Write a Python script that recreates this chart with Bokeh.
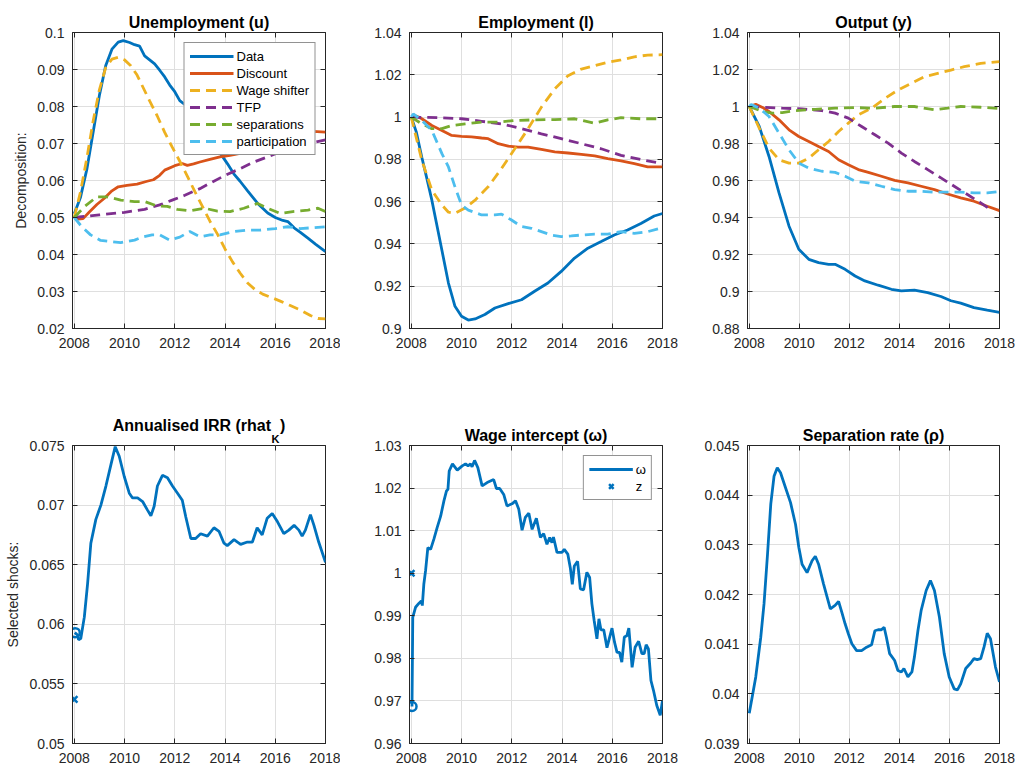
from bokeh.plotting import figure
from bokeh.layouts import gridplot
from bokeh.models import (Range1d, FixedTicker, CustomJSTickFormatter, LinearAxis,
                          Legend, LegendItem, Title)
from bokeh.embed import file_html
from bokeh.resources import INLINE

# ---------------- data ----------------
X_TICKS = [2008, 2010, 2012, 2014, 2016, 2018]
SERIES_NAMES = ["Data", "Discount", "Wage shifter", "TFP", "separations", "participation"]

# Unemployment (u)
u_data_x = [2008.0, 2008.25, 2008.5, 2008.75, 2009.0, 2009.25, 2009.5, 2009.75, 2009.95, 2010.2,
            2010.4, 2010.6, 2010.8, 2011.0, 2011.2, 2011.4, 2011.6, 2011.8, 2012.0, 2012.2,
            2012.5, 2012.9, 2013.3, 2013.6, 2013.85, 2014.1, 2014.35, 2014.6, 2014.9, 2015.1,
            2015.3, 2015.5, 2015.7, 2016.0, 2016.3, 2016.5, 2016.75, 2017.0, 2017.3, 2017.6, 2018.0]
u_data_y = [0.0510, 0.0555, 0.0630, 0.0730, 0.0830, 0.0910, 0.0955, 0.0974, 0.0978, 0.0973,
            0.0967, 0.0963, 0.0937, 0.0926, 0.0915, 0.0898, 0.0880, 0.0858, 0.0840, 0.0816,
            0.0800, 0.0770, 0.0730, 0.0695, 0.0670, 0.0645, 0.0618, 0.0598, 0.0572, 0.0555,
            0.0538, 0.0525, 0.0512, 0.0500, 0.0492, 0.0489, 0.0472, 0.0460, 0.0444, 0.0428, 0.0408]
u_disc_x = [2008.0, 2008.15, 2008.35, 2008.6, 2008.9, 2009.2, 2009.5, 2009.75, 2010.1, 2010.5,
            2010.9, 2011.15, 2011.4, 2011.6, 2012.0, 2012.3, 2012.5, 2012.75, 2013.0, 2013.4,
            2013.8, 2014.2, 2014.6, 2015.15, 2015.6, 2016.0, 2016.5, 2017.0, 2017.5, 2018.0]
u_disc_y = [0.0500, 0.0496, 0.0497, 0.0515, 0.0535, 0.0552, 0.0572, 0.0583, 0.0587, 0.0590,
            0.0598, 0.0602, 0.0614, 0.0628, 0.0640, 0.0646, 0.0641, 0.0645, 0.0650, 0.0657,
            0.0664, 0.0668, 0.0673, 0.0680, 0.0690, 0.0700, 0.0715, 0.0727, 0.0733, 0.0731]
u_wage_x = [2008.0, 2008.25, 2008.5, 2008.75, 2009.0, 2009.25, 2009.5, 2009.75, 2010.0, 2010.25,
            2010.5, 2010.75, 2011.0, 2011.3, 2011.6, 2011.9, 2012.2, 2012.5, 2012.8, 2013.1,
            2013.4, 2013.7, 2014.0, 2014.3, 2014.6, 2014.9, 2015.2, 2015.5, 2015.8, 2016.2,
            2016.6, 2017.0, 2017.4, 2017.7, 2018.0]
u_wage_y = [0.0500, 0.0570, 0.0660, 0.0760, 0.0845, 0.0905, 0.0928, 0.0933, 0.0926, 0.0910,
            0.0885, 0.0850, 0.0815, 0.0775, 0.0730, 0.0690, 0.0652, 0.0612, 0.0570, 0.0530,
            0.0490, 0.0455, 0.0415, 0.0380, 0.0350, 0.0323, 0.0305, 0.0293, 0.0285, 0.0274,
            0.0262, 0.0250, 0.0235, 0.0227, 0.0226]
u_tfp_x = [2008.0, 2009.0, 2010.0, 2010.8, 2011.4, 2011.9, 2012.4, 2013.0, 2013.5, 2014.0,
           2014.6, 2015.15, 2015.7, 2016.35, 2017.0, 2018.0]
u_tfp_y = [0.0500, 0.0507, 0.0514, 0.0522, 0.0534, 0.0547, 0.0560, 0.0578, 0.0596, 0.0614,
           0.0632, 0.0650, 0.0664, 0.0682, 0.0695, 0.0710]
u_sep_x = [2008.0, 2008.4, 2008.9, 2009.3, 2009.85, 2010.4, 2010.8, 2011.3, 2011.7, 2012.1,
           2012.6, 2013.2, 2013.7, 2014.2, 2014.75, 2015.3, 2015.7, 2016.2, 2016.7, 2017.3,
           2017.7, 2018.0]
u_sep_y = [0.0500, 0.0529, 0.0556, 0.0556, 0.0547, 0.0543, 0.0543, 0.0531, 0.0530, 0.0522,
           0.0518, 0.0525, 0.0517, 0.0516, 0.0525, 0.0538, 0.0525, 0.0511, 0.0516, 0.0520,
           0.0525, 0.0516]
u_part_x = [2008.0, 2008.3, 2008.65, 2009.05, 2009.45, 2009.85, 2010.4, 2010.75, 2011.1, 2011.4,
            2011.8, 2012.2, 2012.6, 2013.0, 2013.4, 2013.8, 2014.35, 2014.9, 2015.4, 2016.0,
            2016.5, 2017.0, 2018.0]
u_part_y = [0.0500, 0.0475, 0.0453, 0.0438, 0.0435, 0.0432, 0.0439, 0.0448, 0.0453, 0.0453,
            0.0439, 0.0447, 0.0462, 0.0448, 0.0453, 0.0453, 0.0462, 0.0466, 0.0466, 0.0470,
            0.0475, 0.0470, 0.0475]

# Employment (l)
l_data_x = [2008.0, 2008.2, 2008.42, 2008.62, 2008.82, 2009.0, 2009.22, 2009.48, 2009.74, 2010.0,
            2010.27, 2010.54, 2010.93, 2011.33, 2011.86, 2012.39, 2012.91, 2013.44, 2013.97, 2014.5,
            2015.03, 2015.56, 2016.08, 2016.61, 2017.14, 2017.67, 2018.0]
l_data_y = [1.0, 0.993, 0.981, 0.971, 0.9607, 0.950, 0.937, 0.9215, 0.9105, 0.9058,
            0.904, 0.9045, 0.9066, 0.9097, 0.9118, 0.9136, 0.9176, 0.9215, 0.927, 0.9333,
            0.938, 0.9411, 0.9442, 0.9466, 0.9497, 0.9532, 0.9544]
l_disc_x = [2008.0, 2008.2, 2008.42, 2008.82, 2009.22, 2009.61, 2010.0, 2010.4, 2010.8, 2011.06,
            2011.46, 2011.86, 2012.25, 2012.65, 2013.18, 2013.71, 2014.24, 2014.77, 2015.3, 2015.82,
            2016.35, 2016.88, 2017.41, 2018.0]
l_disc_y = [1.0, 1.0005, 0.9992, 0.996, 0.9937, 0.9913, 0.9909, 0.9906, 0.9901, 0.9898,
            0.9874, 0.9863, 0.9858, 0.9858, 0.9847, 0.9835, 0.983, 0.9824, 0.9816, 0.9803,
            0.9793, 0.978, 0.9764, 0.9764]
l_wage_x = [2008.0, 2008.42, 2008.82, 2009.22, 2009.48, 2009.74, 2010.14, 2010.54, 2011.06, 2011.59,
            2012.12, 2012.65, 2013.18, 2013.71, 2014.24, 2014.77, 2015.3, 2015.82, 2016.35, 2016.88,
            2017.41, 2018.0]
l_wage_y = [1.0, 0.9796, 0.9654, 0.9584, 0.955, 0.9545, 0.957, 0.9607, 0.967, 0.9756,
            0.985, 0.9945, 1.0047, 1.0133, 1.0196, 1.0227, 1.0243, 1.0259, 1.027, 1.0285,
            1.0293, 1.0295]
l_tfp_x = [2008.0, 2009.22, 2010.0, 2010.8, 2011.59, 2012.39, 2013.18, 2013.97, 2014.77, 2015.56,
           2016.35, 2017.14, 2018.0]
l_tfp_y = [1.0, 0.9997, 0.9992, 0.998, 0.9968, 0.9945, 0.9921, 0.9898, 0.9874, 0.985,
           0.9819, 0.9799, 0.978]
l_sep_x = [2008.0, 2008.42, 2008.82, 2009.22, 2009.61, 2010.14, 2010.8, 2011.46, 2012.12, 2012.91,
           2013.71, 2014.5, 2015.3, 2015.82, 2016.35, 2017.14, 2018.0]
l_sep_y = [1.0, 0.9968, 0.9945, 0.9945, 0.996, 0.9968, 0.9976, 0.9976, 0.9984, 0.9987,
           0.9988, 0.9992, 0.9971, 0.9987, 0.9997, 0.9992, 0.9992]
l_part_x = [2008.0, 2008.08, 2008.42, 2008.82, 2009.22, 2009.48, 2009.74, 2010.0, 2010.27, 2010.8,
            2011.33, 2011.59, 2011.99, 2012.39, 2012.78, 2013.18, 2013.58, 2013.97, 2014.37, 2014.77,
            2015.3, 2015.82, 2016.35, 2016.88, 2017.41, 2018.0]
l_part_y = [1.0, 1.0015, 0.9984, 0.9937, 0.9827, 0.9764, 0.967, 0.9584, 0.956, 0.9537,
            0.9537, 0.9541, 0.9513, 0.9482, 0.9474, 0.9458, 0.9442, 0.9435, 0.9438, 0.9442,
            0.9446, 0.9446, 0.9458, 0.945, 0.9458, 0.9477]

# Output (y)
y_data_x = [2008.0, 2008.4, 2008.79, 2009.19, 2009.59, 2009.98, 2010.38, 2010.77, 2011.17, 2011.43,
            2011.83, 2012.23, 2012.62, 2013.15, 2013.68, 2014.08, 2014.6, 2015.13, 2015.66, 2016.06,
            2016.45, 2016.98, 2017.51, 2018.0]
y_data_y = [1.0, 0.9892, 0.973, 0.9533, 0.9353, 0.9228, 0.9174, 0.9156, 0.9147, 0.9147,
            0.912, 0.9084, 0.9057, 0.9034, 0.9012, 0.9003, 0.9007, 0.8994, 0.8973, 0.895,
            0.8937, 0.8913, 0.8899, 0.8887]
y_disc_x = [2008.0, 2008.26, 2008.53, 2008.79, 2009.19, 2009.59, 2009.98, 2010.38, 2010.77, 2011.17,
            2011.57, 2011.96, 2012.36, 2012.76, 2013.28, 2013.81, 2014.34, 2014.87, 2015.4, 2015.93,
            2016.45, 2016.98, 2017.51, 2018.0]
y_disc_y = [1.0, 1.0012, 0.9995, 0.9973, 0.9928, 0.9874, 0.9838, 0.9811, 0.9784, 0.9757,
            0.9712, 0.9685, 0.9659, 0.9644, 0.9623, 0.9601, 0.9587, 0.9569, 0.9551, 0.9527,
            0.9506, 0.9488, 0.9461, 0.9437]
y_wage_x = [2008.0, 2008.4, 2008.79, 2009.19, 2009.59, 2009.98, 2010.38, 2010.77, 2011.17, 2011.57,
            2011.96, 2012.36, 2012.89, 2013.42, 2013.94, 2014.47, 2015.0, 2015.53, 2016.06, 2016.59,
            2017.25, 2018.0]
y_wage_y = [1.0, 0.9883, 0.9775, 0.9712, 0.9694, 0.9694, 0.9721, 0.9766, 0.9811, 0.9865,
            0.991, 0.9955, 0.9991, 1.0044, 1.0089, 1.0125, 1.0161, 1.0179, 1.0197, 1.0215,
            1.0233, 1.0242]
y_tfp_x = [2008.0, 2009.32, 2010.11, 2010.9, 2011.43, 2011.96, 2012.49, 2013.02, 2013.55, 2014.08,
           2014.6, 2015.13, 2015.66, 2016.19, 2016.72, 2017.25, 2017.7]
y_tfp_y = [1.0, 0.9991, 0.9987, 0.9978, 0.9964, 0.9937, 0.9892, 0.9847, 0.9802, 0.9748,
           0.9703, 0.9659, 0.9614, 0.9569, 0.9524, 0.9479, 0.9438]
y_sep_x = [2008.0, 2008.53, 2008.92, 2009.32, 2009.85, 2010.64, 2011.43, 2012.23, 2013.02, 2013.81,
           2014.6, 2015.4, 2015.93, 2016.45, 2017.25, 2018.0]
y_sep_y = [1.0, 0.9973, 0.9964, 0.9967, 0.9978, 0.9985, 0.9991, 0.9994, 0.9991, 1.0,
           1.0, 0.9982, 0.9991, 1.0, 0.9996, 0.9989]
y_part_x = [2008.0, 2008.08, 2008.4, 2008.79, 2009.19, 2009.59, 2009.98, 2010.38, 2010.9, 2011.43,
            2011.83, 2012.23, 2012.76, 2013.28, 2013.81, 2014.34, 2014.87, 2015.4, 2015.93, 2016.45,
            2016.98, 2017.51, 2018.0]
y_part_y = [1.0, 1.001, 0.9991, 0.9946, 0.9856, 0.9766, 0.9694, 0.9667, 0.965, 0.9644,
            0.9623, 0.9596, 0.9587, 0.9569, 0.9551, 0.9542, 0.9542, 0.9537, 0.9537, 0.9537,
            0.9533, 0.9533, 0.954]

# Annualised IRR (rhat_K)
irr_x = [2008.02, 2008.13, 2008.17, 2008.26, 2008.40, 2008.53, 2008.66, 2008.86, 2009.06, 2009.26,
         2009.46, 2009.63, 2009.79, 2009.99, 2010.19, 2010.32, 2010.52, 2010.72, 2010.91, 2011.05,
         2011.18, 2011.31, 2011.51, 2011.71, 2011.91, 2012.11, 2012.30, 2012.44, 2012.64, 2012.83,
         2013.03, 2013.30, 2013.56, 2013.76, 2013.96, 2014.09, 2014.36, 2014.62, 2014.89, 2015.09,
         2015.28, 2015.48, 2015.68, 2015.88, 2016.09, 2016.34, 2016.54, 2016.75, 2016.94, 2017.07,
         2017.20, 2017.40, 2017.54, 2017.73, 2018.00]
irr_y = [0.0593, 0.0591, 0.0587, 0.0588, 0.0606, 0.0634, 0.0668, 0.0688, 0.0700, 0.0716,
         0.0734, 0.0749, 0.0741, 0.0724, 0.0710, 0.0706, 0.0706, 0.0703, 0.0696, 0.0691,
         0.0699, 0.0716, 0.0725, 0.0723, 0.0716, 0.0710, 0.0704, 0.0690, 0.0672, 0.0672,
         0.0676, 0.0674, 0.0681, 0.0678, 0.0668, 0.0666, 0.0671, 0.0667, 0.0669, 0.0669,
         0.0681, 0.0675, 0.0689, 0.0693, 0.0686, 0.0676, 0.0679, 0.0683, 0.0679, 0.0674,
         0.0679, 0.0692, 0.0683, 0.0669, 0.0652]
irr_z_x = [2008.0]
irr_z_y = [0.0537]
irr_start_x = [2008.04]
irr_start_y = [0.0593]

# Wage intercept (omega)
w_x = [2008.03, 2008.06, 2008.17, 2008.30, 2008.40, 2008.44, 2008.50, 2008.57, 2008.66, 2008.77,
       2008.90, 2009.03, 2009.17, 2009.30, 2009.40, 2009.46, 2009.51, 2009.64, 2009.83, 2010.03,
       2010.16, 2010.26, 2010.36, 2010.42, 2010.52, 2010.65, 2010.82, 2011.02, 2011.28, 2011.39,
       2011.52, 2011.68, 2011.81, 2012.01, 2012.15, 2012.28, 2012.41, 2012.54, 2012.68, 2012.81,
       2012.98, 2013.14, 2013.27, 2013.40, 2013.51, 2013.60, 2013.66, 2013.80, 2014.00, 2014.09,
       2014.23, 2014.33, 2014.41, 2014.49, 2014.62, 2014.73, 2014.86, 2014.99, 2015.10, 2015.19,
       2015.28, 2015.39, 2015.47, 2015.55, 2015.66, 2015.79, 2015.99, 2016.09, 2016.19, 2016.29,
       2016.38, 2016.48, 2016.58, 2016.66, 2016.79, 2016.91, 2017.05, 2017.18, 2017.27, 2017.35,
       2017.44, 2017.54, 2017.64, 2017.77, 2017.91, 2018.00]
w_y = [0.9687, 0.9896, 0.9920, 0.9929, 0.9935, 0.9924, 0.9974, 1.0006, 1.0060, 1.0056,
       1.0080, 1.0107, 1.0134, 1.0170, 1.0193, 1.0197, 1.0240, 1.0257, 1.0242, 1.0252,
       1.0257, 1.0252, 1.0257, 1.0250, 1.0265, 1.0248, 1.0205, 1.0213, 1.0220, 1.0199,
       1.0199, 1.0185, 1.0158, 1.0163, 1.0170, 1.0150, 1.0101, 1.0131, 1.0141, 1.0103,
       1.0129, 1.0084, 1.0093, 1.0068, 1.0084, 1.0072, 1.0085, 1.0049, 1.0049, 1.0056,
       1.0045, 1.0013, 0.9974, 1.0017, 1.0028, 0.9963, 0.9961, 1.0002, 0.9990, 0.9928,
       0.9889, 0.9846, 0.9893, 0.9867, 0.9867, 0.9825, 0.9871, 0.9838, 0.9814, 0.9814,
       0.9791, 0.9850, 0.9853, 0.9871, 0.9779, 0.9826, 0.9840, 0.9811, 0.9811, 0.9832,
       0.9822, 0.9748, 0.9725, 0.9690, 0.9666, 0.9701]
w_z_x = [2008.0]
w_z_y = [1.0]
w_start_x = [2008.03]
w_start_y = [0.9687]

# Separation rate (rho)
rho_x = [2008.0, 2008.13, 2008.26, 2008.46, 2008.59, 2008.73, 2008.86, 2008.99, 2009.12, 2009.25,
         2009.45, 2009.65, 2009.85, 2009.98, 2010.11, 2010.31, 2010.51, 2010.64, 2010.77, 2010.97,
         2011.24, 2011.43, 2011.57, 2011.70, 2011.83, 2011.96, 2012.10, 2012.29, 2012.49, 2012.69,
         2012.89, 2013.02, 2013.15, 2013.28, 2013.39, 2013.48, 2013.61, 2013.81, 2013.94, 2014.08,
         2014.18, 2014.34, 2014.50, 2014.60, 2014.74, 2014.87, 2015.07, 2015.24, 2015.40, 2015.60,
         2015.79, 2015.99, 2016.19, 2016.32, 2016.45, 2016.65, 2016.85, 2016.98, 2017.11, 2017.25,
         2017.38, 2017.51, 2017.64, 2017.84, 2018.00]
rho_y = [0.03961, 0.03997, 0.04034, 0.04114, 0.04181, 0.04281, 0.04382, 0.04438, 0.04455, 0.04445,
         0.04415, 0.04385, 0.04341, 0.04295, 0.04261, 0.04244, 0.04268, 0.04277, 0.04261, 0.04221,
         0.04171, 0.04178, 0.04186, 0.04164, 0.04141, 0.04121, 0.04101, 0.04087, 0.04087, 0.04094,
         0.04099, 0.04127, 0.04129, 0.04129, 0.04134, 0.04114, 0.04081, 0.04067, 0.04047, 0.04044,
         0.04051, 0.04034, 0.04044, 0.04074, 0.04127, 0.04168, 0.04208, 0.04228, 0.04208, 0.04154,
         0.04081, 0.04034, 0.04010, 0.04008, 0.04020, 0.04051, 0.04062, 0.04071, 0.04069, 0.04071,
         0.04094, 0.04122, 0.04111, 0.04054, 0.04024]

# ---------------- style ----------------
FONT = "Liberation Sans"
TXT = "#262626"
COLORS = ["#0072BD", "#D95319", "#EDB120", "#7E2F8E", "#77AC30", "#4DBEEE"]
DASHES = ["solid", "solid", "10 6", "10 6", "10 6", "10 6"]
LW = 2.8


def tick_fmt():
    return CustomJSTickFormatter(code="return String(Number(tick.toFixed(5)));")


def blank_fmt():
    return CustomJSTickFormatter(code="return '';")


def style_title(t, size="16px"):
    t.text_font = FONT
    t.text_font_size = size
    t.text_font_style = "bold"
    t.text_color = "black"


def make(width, height, left, right, top, bottom, yr, yticks, title=None, ylabel=None):
    p = figure(width=width, height=height, x_range=Range1d(2007.93, 2018),
               y_range=Range1d(yr[0], yr[1]), output_backend="svg", toolbar_location=None,
               min_border_left=left, min_border_right=right, min_border_top=top,
               min_border_bottom=bottom, title=title)
    p.outline_line_color = TXT
    p.outline_line_width = 1
    p.background_fill_color = "white"
    p.border_fill_color = "white"
    for ax, ticks in ((p.xaxis[0], X_TICKS), (p.yaxis[0], yticks)):
        ax.ticker = FixedTicker(ticks=ticks)
        ax.formatter = tick_fmt()
        ax.axis_line_color = TXT
        ax.major_tick_line_color = TXT
        ax.major_tick_in = 5
        ax.major_tick_out = 0
        ax.minor_tick_line_color = None
        ax.major_label_text_font = FONT
        ax.major_label_text_font_size = "14px"
        ax.major_label_text_color = TXT
    p.xaxis[0].major_label_standoff = 9
    p.yaxis[0].major_label_standoff = 8
    p.xgrid[0].ticker = p.xaxis[0].ticker
    p.ygrid[0].ticker = p.yaxis[0].ticker
    p.xgrid.grid_line_color = "#dfdfdf"
    p.ygrid.grid_line_color = "#dfdfdf"
    # mirrored ticks (box on)
    ax_r = LinearAxis(ticker=FixedTicker(ticks=yticks), formatter=blank_fmt(),
                      axis_line_color=None, major_tick_in=5, major_tick_out=0,
                      minor_tick_line_color=None, major_tick_line_color=TXT,
                      major_label_standoff=0, major_label_text_font_size="1px")
    p.add_layout(ax_r, "right")
    ax_t = LinearAxis(ticker=FixedTicker(ticks=X_TICKS), formatter=blank_fmt(),
                      axis_line_color=None, major_tick_in=5, major_tick_out=0,
                      minor_tick_line_color=None, major_tick_line_color=TXT,
                      major_label_standoff=0, major_label_text_font_size="1px")
    p.add_layout(ax_t, "above")
    if title is not None:
        style_title(p.title)
        p.title.align = "center"
        p.title.standoff = 4
    if ylabel:
        p.yaxis[0].axis_label = ylabel
        p.yaxis[0].axis_label_text_font = FONT
        p.yaxis[0].axis_label_text_font_size = "14px"
        p.yaxis[0].axis_label_text_font_style = "normal"
        p.yaxis[0].axis_label_text_color = TXT
        p.yaxis[0].axis_label_standoff = 5
    return p


def style_legend(leg, label_width=20):
    leg.location = "top_right"
    leg.border_line_color = TXT
    leg.border_line_width = 1
    leg.background_fill_color = "white"
    leg.background_fill_alpha = 1.0
    leg.label_text_font = FONT
    leg.label_text_font_size = "13px"
    leg.label_text_color = "black"
    leg.glyph_width = 44
    leg.glyph_height = 16
    leg.label_height = 16
    leg.label_width = label_width
    leg.label_standoff = 3
    leg.spacing = 1
    leg.padding = 5
    leg.margin = 10


TOP_H, BOT_H = 389, 379
W1, W2, W3 = 340, 340, 338

# ---------------- top row ----------------
p1 = make(W1, TOP_H, 72, 15, 32, 61, (0.02, 0.1),
          [0.02, 0.03, 0.04, 0.05, 0.06, 0.07, 0.08, 0.09, 0.1],
          title="Unemployment (u)", ylabel="Decomposition:")
p2 = make(W2, TOP_H, 69, 18, 32, 61, (0.9, 1.04),
          [0.9, 0.92, 0.94, 0.96, 0.98, 1.0, 1.02, 1.04], title="Employment (l)")
p3 = make(W3, TOP_H, 67, 19, 32, 61, (0.88, 1.04),
          [0.88, 0.9, 0.92, 0.94, 0.96, 0.98, 1.0, 1.02, 1.04], title="Output (y)")

u_series = [(u_data_x, u_data_y), (u_disc_x, u_disc_y), (u_wage_x, u_wage_y),
            (u_tfp_x, u_tfp_y), (u_sep_x, u_sep_y), (u_part_x, u_part_y)]
l_series = [(l_data_x, l_data_y), (l_disc_x, l_disc_y), (l_wage_x, l_wage_y),
            (l_tfp_x, l_tfp_y), (l_sep_x, l_sep_y), (l_part_x, l_part_y)]
y_series = [(y_data_x, y_data_y), (y_disc_x, y_disc_y), (y_wage_x, y_wage_y),
            (y_tfp_x, y_tfp_y), (y_sep_x, y_sep_y), (y_part_x, y_part_y)]

items = []
for p, series in ((p1, u_series), (p2, l_series), (p3, y_series)):
    for i, (xs, ys) in enumerate(series):
        r = p.line(xs, ys, line_color=COLORS[i], line_width=LW, line_dash=DASHES[i])
        if p is p1:
            items.append(LegendItem(label=SERIES_NAMES[i], renderers=[r]))

leg1 = Legend(items=items)
style_legend(leg1)
p1.add_layout(leg1)

# ---------------- bottom row ----------------
p4 = make(W1, BOT_H, 72, 15, 56, 25, (0.05, 0.075),
          [0.05, 0.055, 0.06, 0.065, 0.07, 0.075], title=None, ylabel="Selected shocks:")
p5 = make(W2, BOT_H, 69, 18, 56, 25, (0.96, 1.03),
          [0.96, 0.97, 0.98, 0.99, 1.0, 1.01, 1.02, 1.03], title="Wage intercept (\u03c9)")
p6 = make(W3, BOT_H, 67, 19, 56, 25, (0.039, 0.045),
          [0.039, 0.04, 0.041, 0.042, 0.043, 0.044, 0.045], title="Separation rate (\u03c1)")

BLUE = COLORS[0]
p4.line(irr_x, irr_y, line_color=BLUE, line_width=LW)
p4.scatter(irr_z_x, irr_z_y, marker="x", size=9, line_width=2.5, line_color=BLUE)
p4.scatter(irr_start_x, irr_start_y, marker="circle", size=9, line_width=2.5,
           line_color=BLUE, fill_color=None)

# title with subscript K: subscript band next to the frame, main text above it
t_sub = Title(text="K", align="left", offset=199, standoff=2)
style_title(t_sub, "11px")
p4.add_layout(t_sub, "above")
t_main = Title(text="Annualised IRR (rhat\u00a0\u00a0)", align="center", standoff=-9)
style_title(t_main, "16px")
p4.add_layout(t_main, "above")

rw = p5.line(w_x, w_y, line_color=BLUE, line_width=LW)
rz = p5.scatter(w_z_x, w_z_y, marker="x", size=9, line_width=2.5, line_color=BLUE)
p5.scatter(w_start_x, w_start_y, marker="circle", size=9, line_width=2.5,
           line_color=BLUE, fill_color=None)
leg5 = Legend(items=[LegendItem(label="\u03c9", renderers=[rw]),
                     LegendItem(label="z", renderers=[rz])])
style_legend(leg5, label_width=8)
p5.add_layout(leg5)

p6.line(rho_x, rho_y, line_color=BLUE, line_width=LW)

grid = gridplot([[p1, p2, p3], [p4, p5, p6]], toolbar_location=None)

open("out.html", "w").write(file_html(grid, INLINE))
